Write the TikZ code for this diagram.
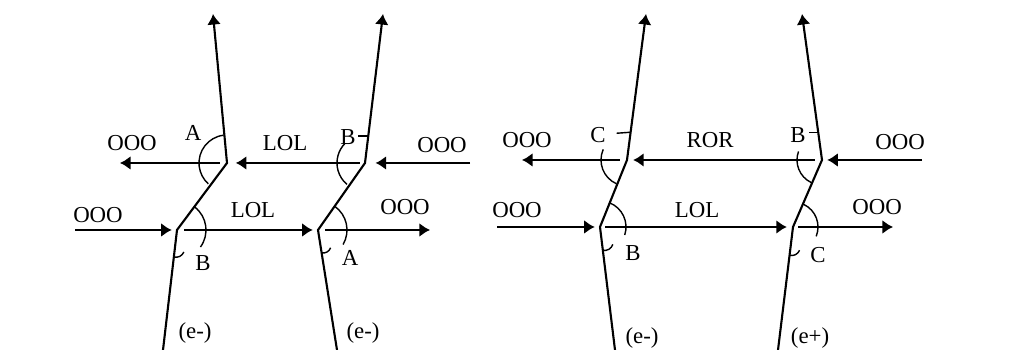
\documentclass[tikz,border=0pt]{standalone}
\usepackage{fontspec}
\setmainfont{Liberation Serif}
\usetikzlibrary{arrows.meta,calc}
\begin{document}
\begin{tikzpicture}[x=0.02cm, y=0.02cm, line width=1.2pt,
                    flow/.style={-{Latex[length=6pt,width=8pt]}},
                    tag/.style={font=\fontsize{13}{15}\selectfont, inner sep=0pt},
                    hook/.style={line width=0.8pt}]
\useasboundingbox (0,0) rectangle (1024,350);
% the four paths: bottom, lower kink, upper kink, top
\coordinate (b1) at (163,0);   \coordinate (l1) at (177,120);
\coordinate (u1) at (227,187); \coordinate (t1) at (213,336);
\coordinate (b2) at (337,0);   \coordinate (l2) at (318,120);
\coordinate (u2) at (365,187); \coordinate (t2) at (383,336);
\coordinate (b3) at (615,0);   \coordinate (l3) at (600,123);
\coordinate (u3) at (627,190); \coordinate (t3) at (646,336);
\coordinate (b4) at (778,0);   \coordinate (l4) at (793,123);
\coordinate (u4) at (822,190); \coordinate (t4) at (802,336);
\foreach \i in {1,...,4}
    \draw[flow] (b\i) -- (l\i) -- (u\i) -- (t\i);
% free ends of the side arrows
\coordinate (w1) at (120,187); \coordinate (e1) at (470,187);
\coordinate (w2) at (75,120);  \coordinate (e2) at (430,120);
\coordinate (w3) at (522,190); \coordinate (e3) at (922,190);
\coordinate (w4) at (497,123); \coordinate (e4) at (893,123);
\draw[flow,shorten <=4pt] (u1) -- (w1);
\draw[flow,shorten <=3pt,shorten >=5pt] (u2) -- (u1);
\draw[flow,shorten >=6pt] (e1) -- (u2);
\draw[flow,shorten >=3pt] (w2) -- (l1);
\draw[flow,shorten <=4pt,shorten >=3pt] (l1) -- (l2);
\draw[flow,shorten <=4pt] (l2) -- (e2);
\draw[flow,shorten <=4pt] (u3) -- (w3);
\draw[flow,shorten <=4pt,shorten >=3.5pt] (u4) -- (u3);
\draw[flow,shorten >=3pt] (e3) -- (u4);
\draw[flow,shorten >=3pt] (w4) -- (l3);
\draw[flow,shorten <=3pt,shorten >=3.5pt] (l3) -- (l4);
\draw[flow,shorten <=3pt] (l4) -- (e4);
% angle arcs
\foreach \c/\r/\s/\e in {u1/28/97/228, l1/29/52/-36, u2/28/135/230, l2/29/55/-30,
                          u3/26/156/246, l3/26/68/-18, u4/25/160/244, l4/25/64/-22}
    \draw[hook] ([shift={(\s:\r)}]\c) arc[start angle=\s, end angle=\e, radius=\r];
% small marks
\draw[hook] ($(l1)!0.225!(b1)$) to[bend right=40] ++(10,5);
\draw[hook] ($(l2)!0.19!(b2)$) to[bend right=40] ++(9,5);
\draw[hook] ($(l3)!0.19!(b3)$) to[bend right=40] ++(10,6);
\draw[hook] ($(l4)!0.23!(b4)$) to[bend right=40] ++(10,5);
\draw[hook] ($(u2)!0.18!(t2)$) -- ++(-10,0);
\draw[hook] ($(u3)!0.19!(t3)$) -- ++(-14,-1);
\draw[hook] ($(u4)!0.19!(t4)$) -- ++(-9,0);
% labels
\node[tag] (o1) at (132,207) {OOO};
\node[tag] (a1) at (193,217) {A};
\node[tag] (m1) at (285,207) {LOL};
\node[tag] (a2) at (348,213) {B};
\node[tag] (o2) at (442,205) {OOO};
\node[tag] (o3) at (98,135)  {OOO};
\node[tag] (m2) at (253,140) {LOL};
\node[tag] (o4) at (405,143) {OOO};
\node[tag] (a3) at (203,87)  {B};
\node[tag] (a4) at (350,92)  {A};
\node[tag] (s1) at (195,17)  {(e-)};
\node[tag] (s2) at (363,17)  {(e-)};
\node[tag] (o5) at (527,210) {OOO};
\node[tag] (a5) at (598,215) {C};
\node[tag] (m3) at (710,210) {ROR};
\node[tag] (a6) at (798,215) {B};
\node[tag] (o6) at (900,208) {OOO};
\node[tag] (o7) at (517,140) {OOO};
\node[tag] (m4) at (697,140) {LOL};
\node[tag] (o8) at (877,143) {OOO};
\node[tag] (a7) at (633,97)  {B};
\node[tag] (a8) at (818,95)  {C};
\node[tag] (s3) at (642,12)  {(e-)};
\node[tag] (s4) at (810,12)  {(e+)};
\end{tikzpicture}
\end{document}
